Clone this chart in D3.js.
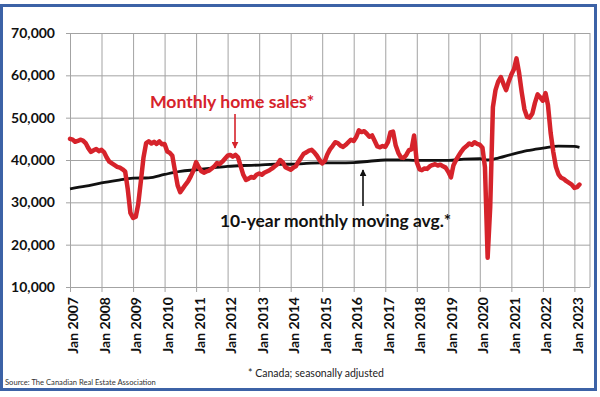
<!DOCTYPE html>
<html>
<head>
<meta charset="utf-8">
<script src="https://cdn.jsdelivr.net/npm/d3@7"></script>
<style>
  body { margin: 0; background: #fff; }
  svg { display: block; font-family: Lato, "Open Sans", sans-serif; }
</style>
</head>
<body>
<svg id="chart" width="600" height="397"></svg>
<script>
// monthly home sales, thousands, Jan 2007 .. Mar 2023
const salesStart = "2007-01";
const salesValues = [
  45.0, 44.8, 44.3, 44.5, 44.8, 44.6, 44.0, 42.8, 41.9, 42.3, 42.6, 42.1, // 2007
  42.4, 41.8, 40.6, 39.6, 39.2, 38.8, 38.4, 38.2, 37.8, 37.3, 33.0, 27.5, // 2008
  26.3, 26.6, 29.5, 35.0, 40.5, 44.0, 44.4, 43.9, 44.3, 43.8, 44.4, 43.7, // 2009
  43.8, 42.0, 41.7, 41.0, 37.5, 34.0, 32.4, 33.3, 34.2, 35.0, 36.2, 37.5, // 2010
  39.5, 38.3, 37.4, 37.0, 37.3, 37.5, 38.0, 38.5, 39.3, 39.0, 39.6, 40.3, // 2011
  41.0, 41.2, 40.8, 41.2, 40.6, 38.5, 36.5, 35.3, 35.6, 36.0, 35.8, 36.5, // 2012
  36.8, 36.5, 37.0, 37.3, 37.6, 38.0, 38.5, 39.0, 40.0, 39.5, 38.3, 38.0, // 2013
  37.7, 38.2, 38.5, 39.6, 40.5, 41.5, 41.8, 42.2, 42.4, 41.8, 41.0, 40.0, // 2014
  39.2, 39.8, 41.3, 42.5, 43.3, 44.2, 44.0, 43.4, 43.1, 43.6, 44.2, 44.8, // 2015
  44.5, 45.5, 47.0, 46.6, 46.8, 46.2, 45.5, 45.8, 44.5, 43.2, 43.0, 43.3, // 2016
  43.1, 44.2, 46.5, 46.7, 43.5, 41.7, 40.6, 40.5, 41.2, 42.3, 42.5, 45.8, // 2017
  39.5, 37.8, 37.6, 38.0, 37.9, 38.5, 38.8, 39.0, 38.7, 38.9, 38.5, 38.2, // 2018
  37.2, 35.9, 38.7, 40.0, 41.0, 42.0, 42.8, 43.3, 43.9, 43.6, 44.2, 43.8, // 2019
  43.6, 42.9, 38.3, 16.9, 29.0, 52.5, 56.5, 58.5, 59.6, 58.0, 56.5, 58.5, // 2020
  60.2, 61.5, 64.0, 60.5, 56.0, 52.0, 50.2, 50.0, 51.0, 53.5, 55.5, 54.8, // 2021
  54.0, 55.8, 53.0, 46.4, 42.0, 38.4, 36.6, 35.8, 35.5, 35.0, 34.6, 34.2, // 2022
  33.4, 33.6, 34.2                                                          // 2023
];

// 10-year monthly moving average, thousands
const maDates = [
  "2007-01", "2007-07", "2008-01", "2008-07", "2009-01", "2009-07", "2010-01", "2010-07",
  "2011-01", "2011-07", "2012-01", "2012-07", "2013-01", "2013-07", "2014-01", "2014-07",
  "2015-01", "2015-07", "2016-01", "2016-07", "2017-01", "2017-07", "2018-01", "2018-07",
  "2019-01", "2019-07", "2020-01", "2020-04", "2020-07", "2021-01", "2021-07", "2022-01",
  "2022-07", "2023-01", "2023-03"
];
const maValues = [
  33.2, 33.8, 34.6, 35.2, 35.7, 35.8, 36.6, 37.3,
  37.7, 38.1, 38.5, 38.7, 38.8, 39.0, 39.0, 39.2,
  39.3, 39.3, 39.4, 39.7, 40.0, 40.0, 39.9, 39.9,
  39.9, 40.2, 40.3, 40.0, 40.3, 41.3, 42.2, 42.8,
  43.3, 43.2, 43.0
];

const yTicks = [10000, 20000, 30000, 40000, 50000, 60000, 70000];
const xTickYears = d3.range(2007, 2024);

const parseMonth = d3.timeParse("%Y-%m");

const svg = d3.select("#chart");
const plot = { left: 70, right: 590, top: 33, bottom: 287 };

const x = d3.scaleTime()
  .domain([parseMonth("2007-01"), parseMonth("2023-07")])
  .range([plot.left, plot.right]);
const y = d3.scaleLinear()
  .domain([10000, 70000])
  .range([plot.bottom, plot.top]);

svg.append("rect")
  .attr("width", 600).attr("height", 397).attr("fill", "#fff");

// outer frame
svg.append("rect")
  .attr("x", 1.5).attr("y", 5.5)
  .attr("width", 594).attr("height", 384)
  .attr("fill", "none")
  .attr("stroke", "#3c62a6")
  .attr("stroke-width", 3);

// y axis + horizontal grid
const yAxis = svg.append("g")
  .attr("transform", `translate(${plot.left - 4},0)`)
  .call(d3.axisLeft(y)
    .tickValues(yTicks)
    .tickFormat(d3.format(","))
    .tickSizeInner(-(plot.right - plot.left + 4))
    .tickSizeOuter(0)
    .tickPadding(11));
yAxis.select(".domain").remove();
yAxis.selectAll("line").attr("stroke", "#a3a3a3");
yAxis.selectAll("text")
  .attr("font-size", 14)
  .attr("font-weight", "bold")
  .attr("fill", "#111")
  .attr("font-family", "Lato, sans-serif");

// x axis + vertical grid
const xAxis = svg.append("g")
  .attr("transform", `translate(0,${plot.bottom + 5})`)
  .call(d3.axisBottom(x)
    .tickValues(xTickYears.map(yr => new Date(yr, 0, 1)))
    .tickFormat(d3.timeFormat("Jan %Y"))
    .tickSizeInner(-(plot.bottom - plot.top + 5))
    .tickSizeOuter(0));
xAxis.select(".domain").remove();
xAxis.selectAll("line").attr("stroke", "#a3a3a3");
xAxis.selectAll("text")
  .attr("transform", "rotate(-90)")
  .attr("x", -5)
  .attr("y", 3)
  .attr("dy", "0.35em")
  .attr("text-anchor", "end")
  .attr("font-size", 14)
  .attr("font-weight", "bold")
  .attr("fill", "#111")
  .attr("font-family", "Lato, sans-serif");

// right edge of the plot
svg.append("line")
  .attr("x1", plot.right).attr("x2", plot.right)
  .attr("y1", plot.top).attr("y2", plot.bottom)
  .attr("stroke", "#a3a3a3");

// moving average
const maData = maDates.map((d, i) => ({ date: parseMonth(d), value: maValues[i] * 1000 }));
svg.append("path")
  .datum(maData)
  .attr("fill", "none")
  .attr("stroke", "#111")
  .attr("stroke-width", 2.8)
  .attr("d", d3.line()
    .x(d => x(d.date))
    .y(d => y(d.value))
    .curve(d3.curveMonotoneX));

// monthly sales
const start = parseMonth(salesStart);
const salesData = salesValues.map((v, i) => ({ date: d3.timeMonth.offset(start, i), value: v * 1000 }));
svg.append("path")
  .datum(salesData)
  .attr("fill", "none")
  .attr("stroke", "#d6232b")
  .attr("stroke-width", 4.5)
  .attr("stroke-linejoin", "round")
  .attr("stroke-linecap", "round")
  .attr("d", d3.line()
    .x(d => x(d.date))
    .y(d => y(d.value)));

// arrows
const defs = svg.append("defs");
[["redHead", "#d6232b"], ["blackHead", "#111"]].forEach(([id, c]) => {
  defs.append("marker")
    .attr("id", id)
    .attr("viewBox", "0 0 10 10")
    .attr("refX", 9).attr("refY", 5)
    .attr("markerWidth", 7).attr("markerHeight", 7)
    .attr("markerUnits", "userSpaceOnUse")
    .attr("orient", "auto")
    .append("path")
    .attr("d", "M0,0 L10,5 L0,10 z")
    .attr("fill", c);
});

svg.append("line")
  .attr("x1", 235).attr("x2", 235)
  .attr("y1", 114).attr("y2", 148)
  .attr("stroke", "#d6232b").attr("stroke-width", 1.6)
  .attr("marker-end", "url(#redHead)");

svg.append("line")
  .attr("x1", 363).attr("x2", 363)
  .attr("y1", 206).attr("y2", 170)
  .attr("stroke", "#111").attr("stroke-width", 1.6)
  .attr("marker-end", "url(#blackHead)");

// labels
svg.append("text")
  .text("Monthly home sales*")
  .attr("x", 150).attr("y", 108)
  .attr("font-size", 17.6)
  .attr("font-weight", "bold")
  .attr("fill", "#d6232b");

svg.append("text")
  .text("10-year monthly moving avg.*")
  .attr("x", 220).attr("y", 227)
  .attr("font-size", 17.4)
  .attr("font-weight", "bold")
  .attr("fill", "#111");

svg.append("text")
  .text("* Canada; seasonally adjusted")
  .attr("x", 316).attr("y", 377)
  .attr("text-anchor", "middle")
  .attr("font-size", 10.5)
  .attr("fill", "#222");

svg.append("text")
  .text("Source: The Canadian Real Estate Association")
  .attr("x", 5).attr("y", 385)
  .attr("font-size", 7.6)
  .attr("fill", "#333");
</script>
</body>
</html>
